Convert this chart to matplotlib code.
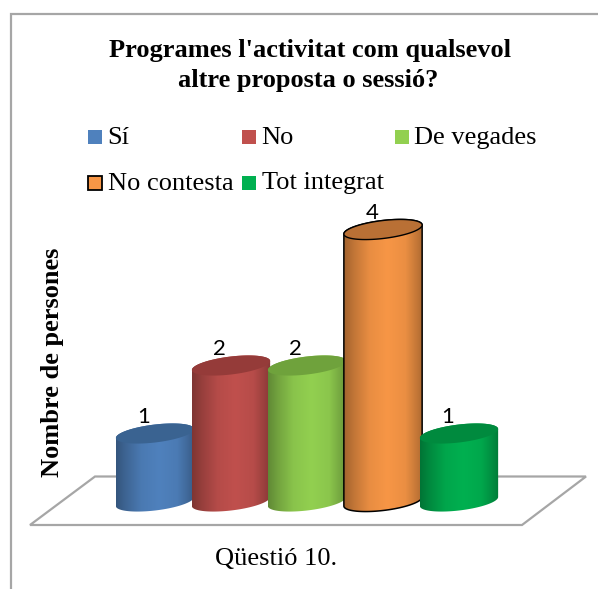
import numpy as np
import matplotlib
matplotlib.use('Agg')
import matplotlib.pyplot as plt
from matplotlib.colors import to_rgb
from matplotlib.patches import Polygon, Rectangle

plt.rcParams['font.family'] = ['Liberation Serif', 'DejaVu Serif']

categories = ['Sí', 'No', 'De vegades', 'No contesta', 'Tot integrat']
values = [1, 2, 2, 4, 1]
colors = ['#4F81BD', '#C0504D', '#92D050', '#F79646', '#00B050']
top_colors = ['#3A6391', '#953B39', '#6FA23C', '#B97035', '#008A3E']
edges = [None, None, None, 'black', None]

W, H = 598, 589
fig = plt.figure(figsize=(W / 100, H / 100), dpi=100)

# background layer in pixel coordinates: frame, floor, texts
bg = fig.add_axes([0, 0, 1, 1])
bg.set_xlim(0, W)
bg.set_ylim(H, 0)
bg.axis('off')

grey = '#A6A6A6'
bg.plot([10.5, 10.5, W], [H, 14, 14], color=grey, lw=1.6, solid_joinstyle='miter')
bg.add_patch(Polygon([(30, 525), (95, 476.5), (586, 476.5), (522, 525)], closed=True,
                     fc='white', ec=grey, lw=1.6))

bg.text(310, 51, "Programes l'activitat com qualsevol", fontsize=19, fontweight='bold',
        ha='center', va='center')
bg.text(308, 81, 'altre proposta o sessió?', fontsize=19, fontweight='bold',
        ha='center', va='center')
bg.text(53, 362, 'Nombre de persones', fontsize=19, fontweight='bold', rotation=90,
        ha='center', va='center')
bg.text(276, 559, 'Qüestió 10.', fontsize=19, ha='center', va='center')

# legend, laid out by hand since the columns are uneven
leg_x = [88, 242, 395, 88, 242]
leg_y = [137, 137, 137, 182.5, 182.5]
for name, c, e, lx, ly in zip(categories, colors, edges, leg_x, leg_y):
    bg.add_patch(Rectangle((lx, ly - 7), 14, 14, fc=c, ec=e if e else c, lw=1.3 if e else 0))
    bg.text(lx + 19.5, ly + 1, name, fontsize=19, ha='left', va='center')

# bars layer: x = category index, y = count
ax = fig.add_axes([0, 0, 1, 1])
ax.patch.set_alpha(0)
ax.axis('off')
x0, xstep = 155, 76
y0, ystep = 501.5, 68
xlim = ((0 - x0) / xstep, (W - x0) / xstep)
ylim = ((y0 - H) / ystep, y0 / ystep)

bar_w = 1.03
a = bar_w / 2
b = 9 / ystep
tilt = 4.5 / ystep


def arc(cx, cy, t):
    return np.column_stack([cx + a * np.cos(t), cy + b * np.sin(t) + tilt * np.cos(t)])


shade_pos = np.array([0, 0.12, 0.32, 0.55, 0.78, 0.92, 1])
shade_val = np.array([0.66, 0.78, 0.94, 1.0, 0.95, 0.8, 0.7])
xs = np.linspace(0, 1, 128)
shade = np.interp(xs, shade_pos, shade_val)

for i, (v, c, tc, e) in enumerate(zip(values, colors, top_colors, edges)):
    z = 3 + i
    low = arc(i, 0, np.linspace(np.pi, 2 * np.pi, 60))
    high = arc(i, v, np.linspace(0, np.pi, 60))
    ax.add_patch(Polygon(np.vstack([low, high]), closed=True, fc='none', ec=e or 'none',
                         lw=1.1, zorder=z + 0.2))
    img = shade[None, :, None] * np.array(to_rgb(c))[None, None, :]
    im = ax.imshow(img, extent=(i - a, i + a, -0.2, v + 0.2), aspect='auto',
                   interpolation='bilinear', zorder=z)
    im.set_clip_path(Polygon(np.vstack([low, high]), closed=True, transform=ax.transData))
    ax.add_patch(Polygon(arc(i, v, np.linspace(0, 2 * np.pi, 120)), closed=True,
                         fc=tc, ec=e or 'none', lw=1.0, zorder=z + 0.3))
    ax.annotate(str(v), (i, v), xytext=(-8, 12), textcoords='offset points',
                ha='center', va='center', fontsize=16, family='Lato', zorder=20)

ax.set_xlim(xlim)
ax.set_ylim(ylim)

plt.savefig('out.png', dpi=100)
print("figure generated")
